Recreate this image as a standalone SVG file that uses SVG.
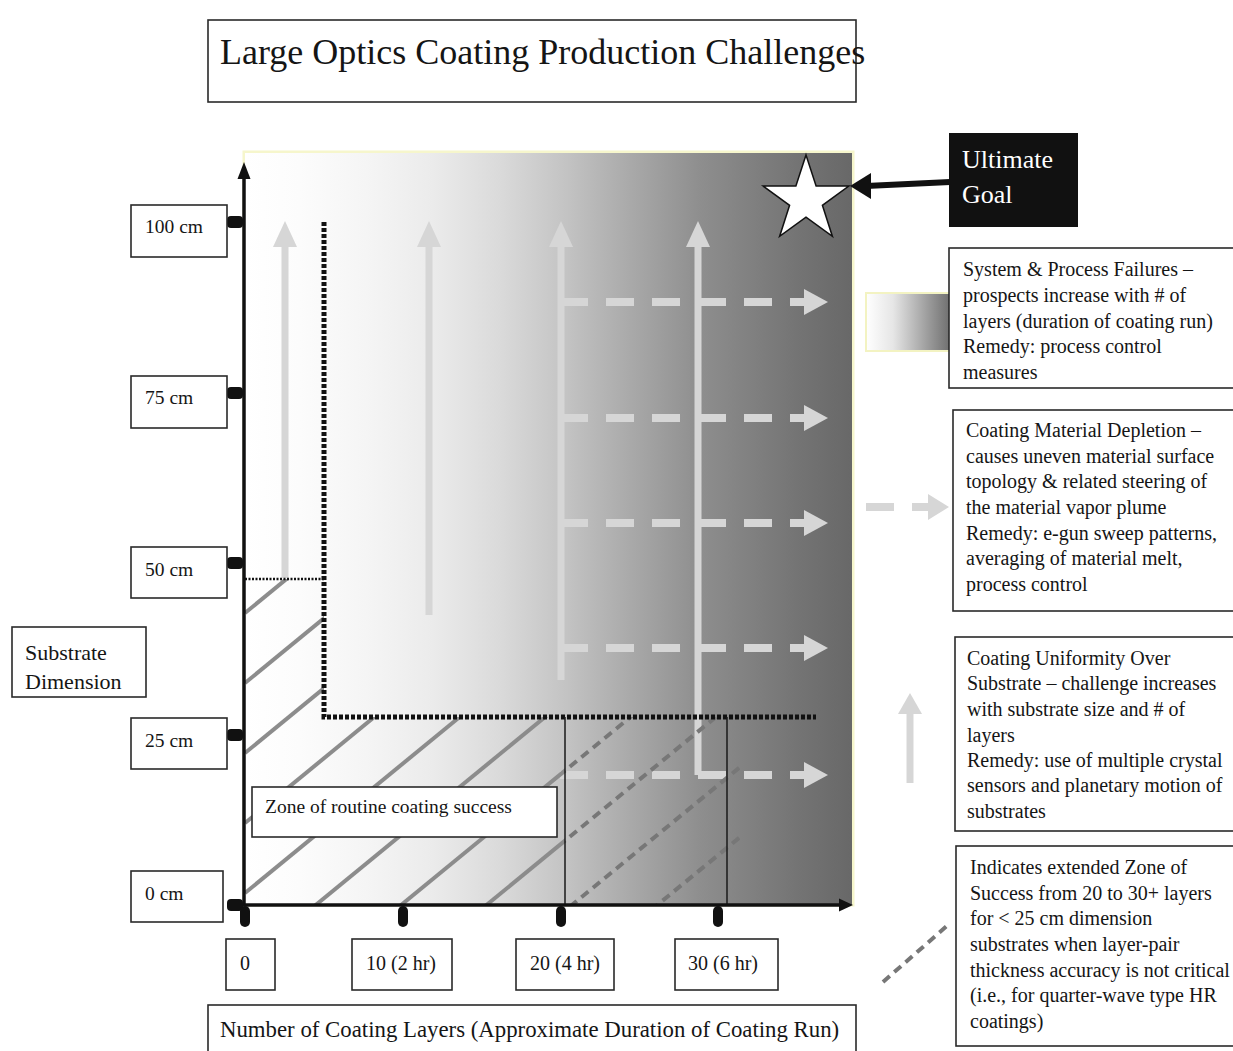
<svg xmlns="http://www.w3.org/2000/svg" width="1233" height="1051" viewBox="0 0 1233 1051">
  <style>
    text { font-family: "Liberation Serif", "Times New Roman", serif; fill: #151515; }
    .box { fill: #ffffff; stroke: #2a2a2a; stroke-width: 1.6; }
    .body { font-size: 20px; }
    .tick-label { font-size: 19.5px; }
    .light { stroke: #d6d6d6; stroke-width: 7; fill: none; }
    .light-dash { stroke: #d6d6d6; stroke-width: 8; fill: none; stroke-dasharray: 28 18; }
    .light-head { fill: #d6d6d6; }
    .hatch { stroke: #8c8c8c; stroke-width: 4; fill: none; }
    .hatch-dash { stroke: #777777; stroke-width: 4; fill: none; stroke-dasharray: 9 6; }
    .ink { fill: #111111; }
  </style>
  <defs>
    <linearGradient id="fieldGrad" gradientUnits="userSpaceOnUse" x1="245" y1="0" x2="852" y2="0">
      <stop offset="0" stop-color="#ffffff"/>
      <stop offset="0.09" stop-color="#fcfcfc"/>
      <stop offset="0.2" stop-color="#f5f5f5"/>
      <stop offset="0.31" stop-color="#ebebeb"/>
      <stop offset="0.42" stop-color="#dadada"/>
      <stop offset="0.53" stop-color="#c3c3c3"/>
      <stop offset="0.64" stop-color="#a8a8a8"/>
      <stop offset="0.75" stop-color="#8e8e8e"/>
      <stop offset="0.91" stop-color="#747474"/>
      <stop offset="1" stop-color="#686868"/>
    </linearGradient>
    <linearGradient id="swatchGrad" x1="0" y1="0" x2="1" y2="0">
      <stop offset="0" stop-color="#ffffff"/>
      <stop offset="0.3" stop-color="#e6e6e6"/>
      <stop offset="0.7" stop-color="#9a9a9a"/>
      <stop offset="1" stop-color="#636363"/>
    </linearGradient>
    <clipPath id="solidZone">
      <polygon points="245,579 324,579 324,717 565,717 565,905 245,905"/>
    </clipPath>
    <clipPath id="dashZone">
      <rect x="565" y="717" width="175" height="188"/>
    </clipPath>
  </defs>

  <rect width="1233" height="1051" fill="#ffffff"/>

  <!-- title -->
  <g id="title">
    <rect class="box" x="208" y="20" width="648" height="82"/>
    <text x="220" y="64" font-size="36">Large Optics Coating Production Challenges</text>
  </g>

  <!-- shaded field of the chart -->
  <g id="chart-field">
    <rect x="244" y="152" width="609" height="753" fill="none" stroke="#f6f6cc" stroke-width="3"/>
    <rect x="245" y="153" width="607" height="752" fill="url(#fieldGrad)"/>
  </g>

  <!-- challenge arrows, hatching and zone boundaries -->
  <g id="connectors">
    <!-- vertical size arrows -->
    <line class="light" x1="285" y1="578" x2="285" y2="240"/>
    <polygon class="light-head" points="285,221 273,247 297,247"/>
    <line class="light" x1="429" y1="615" x2="429" y2="240"/>
    <polygon class="light-head" points="429,221 417,247 441,247"/>
    <line class="light" x1="561" y1="680" x2="561" y2="240"/>
    <polygon class="light-head" points="561,221 549,247 573,247"/>
    <line class="light" x1="698" y1="775" x2="698" y2="240"/>
    <polygon class="light-head" points="698,221 686,247 710,247"/>

    <!-- horizontal layer-count arrows -->
    <line class="light-dash" x1="560" y1="302" x2="806" y2="302"/>
    <polygon class="light-head" points="804,289 828,302 804,315"/>
    <line class="light-dash" x1="560" y1="418" x2="806" y2="418"/>
    <polygon class="light-head" points="804,405 828,418 804,431"/>
    <line class="light-dash" x1="560" y1="523" x2="806" y2="523"/>
    <polygon class="light-head" points="804,510 828,523 804,536"/>
    <line class="light-dash" x1="560" y1="648" x2="806" y2="648"/>
    <polygon class="light-head" points="804,635 828,648 804,661"/>
    <line class="light-dash" x1="560" y1="775" x2="806" y2="775"/>
    <polygon class="light-head" points="804,762 828,775 804,788"/>

    <!-- hatching: routine success zone -->
    <g clip-path="url(#solidZone)">
      <line class="hatch" x1="245" y1="613" x2="900" y2="76"/>
      <line class="hatch" x1="245" y1="683" x2="900" y2="146"/>
      <line class="hatch" x1="245" y1="753" x2="900" y2="216"/>
      <line class="hatch" x1="245" y1="823" x2="900" y2="286"/>
      <line class="hatch" x1="245" y1="893" x2="900" y2="356"/>
      <line class="hatch" x1="245" y1="963" x2="900" y2="426"/>
      <line class="hatch" x1="245" y1="1033" x2="900" y2="496"/>
      <line class="hatch" x1="245" y1="1103" x2="900" y2="566"/>
    </g>
    <!-- hatching: extended zone -->
    <g clip-path="url(#dashZone)">
      <line class="hatch-dash" x1="245" y1="1033" x2="900" y2="496"/>
      <line class="hatch-dash" x1="245" y1="1103" x2="900" y2="566"/>
      <line class="hatch-dash" x1="245" y1="1173" x2="900" y2="636"/>
      <line class="hatch-dash" x1="245" y1="1243" x2="900" y2="706"/>
    </g>

    <!-- zone boundaries -->
    <line x1="245" y1="579" x2="324" y2="579" stroke="#111" stroke-width="2.5" stroke-dasharray="2 1.5"/>
    <polyline points="324,222 324,717 816,717" fill="none" stroke="#111" stroke-width="5" stroke-dasharray="4 2"/>
    <line x1="565" y1="717" x2="565" y2="905" stroke="#1a1a1a" stroke-width="1.5"/>
    <line x1="727" y1="717" x2="727" y2="905" stroke="#1a1a1a" stroke-width="1.5"/>

    <!-- pointer to the ultimate goal -->
    <line x1="866" y1="186" x2="950" y2="182" stroke="#111" stroke-width="6"/>
    <polygon class="ink" points="850,186 871,173 871,199"/>

    <!-- legend samples -->
    <line class="light-dash" x1="866" y1="507" x2="932" y2="507"/>
    <polygon class="light-head" points="928,494 949,507 928,520"/>
    <line class="light" x1="910" y1="783" x2="910" y2="710"/>
    <polygon class="light-head" points="910,693 898,714 922,714"/>
    <line class="hatch-dash" x1="883" y1="982" x2="948" y2="925"/>
  </g>

  <!-- ultimate goal star -->
  <g id="goal-star">
    <polygon points="806,155 816.1,186.1 848.8,186.1 822.4,205.3 832.4,236.4 806,217.2 779.6,236.4 789.6,205.3 763.2,186.1 795.9,186.1" fill="#ffffff" stroke="#111" stroke-width="1.5"/>
  </g>

  <!-- axes -->
  <g id="axes">
    <line x1="244" y1="905" x2="244" y2="174" stroke="#111" stroke-width="3.5"/>
    <polygon class="ink" points="244,162 237.5,179 250.5,179"/>
    <line x1="242" y1="905" x2="842" y2="905" stroke="#111" stroke-width="3.5"/>
    <polygon class="ink" points="853,905 839,898.5 839,911.5"/>
    <!-- y ticks -->
    <rect class="ink" x="227" y="216" width="16" height="12" rx="4"/>
    <rect class="ink" x="227" y="387" width="16" height="12" rx="4"/>
    <rect class="ink" x="227" y="557" width="16" height="12" rx="4"/>
    <rect class="ink" x="227" y="729" width="16" height="12" rx="4"/>
    <rect class="ink" x="227" y="899" width="16" height="12" rx="4"/>
    <!-- x ticks -->
    <rect class="ink" x="240" y="906" width="10" height="21" rx="5"/>
    <rect class="ink" x="398" y="906" width="10" height="21" rx="5"/>
    <rect class="ink" x="556" y="906" width="10" height="21" rx="5"/>
    <rect class="ink" x="713" y="906" width="10" height="21" rx="5"/>
  </g>

  <!-- routine zone label -->
  <g id="zone-label">
    <rect class="box" x="252" y="787" width="305" height="50"/>
    <text x="265" y="813" font-size="19.5">Zone of routine coating success</text>
  </g>

  <!-- substrate size labels -->
  <g id="y-labels">
    <g id="y-100"><rect class="box" x="131" y="205" width="96" height="52"/><text class="tick-label" x="145" y="233">100 cm</text></g>
    <g id="y-75"><rect class="box" x="131" y="376" width="96" height="52"/><text class="tick-label" x="145" y="404">75 cm</text></g>
    <g id="y-50"><rect class="box" x="131" y="547" width="96" height="51"/><text class="tick-label" x="145" y="576">50 cm</text></g>
    <g id="y-25"><rect class="box" x="131" y="718" width="96" height="51"/><text class="tick-label" x="145" y="747">25 cm</text></g>
    <g id="y-0"><rect class="box" x="131" y="871" width="92" height="51"/><text class="tick-label" x="145" y="900">0 cm</text></g>
  </g>

  <g id="axis-title-y">
    <rect class="box" x="12" y="627" width="134" height="70"/>
    <text x="25" y="660" font-size="22">Substrate</text>
    <text x="25" y="689" font-size="22">Dimension</text>
  </g>

  <!-- layer count labels -->
  <g id="x-labels">
    <g id="x-0"><rect class="box" x="226" y="939" width="49" height="51"/><text class="body" x="240" y="970">0</text></g>
    <g id="x-10"><rect class="box" x="352" y="939" width="100" height="51"/><text class="body" x="366" y="970">10 (2 hr)</text></g>
    <g id="x-20"><rect class="box" x="516" y="939" width="98" height="51"/><text class="body" x="530" y="970">20 (4 hr)</text></g>
    <g id="x-30"><rect class="box" x="675" y="939" width="103" height="51"/><text class="body" x="688" y="970">30 (6 hr)</text></g>
  </g>

  <g id="axis-title-x">
    <rect class="box" x="208" y="1005" width="648" height="52"/>
    <text x="220" y="1037" font-size="22.8">Number of Coating Layers (Approximate Duration of Coating Run)</text>
  </g>

  <!-- ultimate goal tag -->
  <g id="ultimate-goal">
    <rect x="949" y="133" width="129" height="94" fill="#111111"/>
    <text x="962" y="168" font-size="26" style="fill:#ffffff">Ultimate</text>
    <text x="962" y="203" font-size="26" style="fill:#ffffff">Goal</text>
  </g>

  <!-- legend: system & process failures -->
  <g id="legend-failures">
    <rect x="866" y="293" width="90" height="58" fill="url(#swatchGrad)" stroke="#f3f3c2" stroke-width="2"/>
    <rect class="box" x="949" y="248" width="300" height="140"/>
    <text class="body" x="963" y="276">System &amp; Process Failures –</text>
    <text class="body" x="963" y="302">prospects increase with # of</text>
    <text class="body" x="963" y="328">layers (duration of coating run)</text>
    <text class="body" x="963" y="353">Remedy: process control</text>
    <text class="body" x="963" y="379">measures</text>
  </g>

  <!-- legend: material depletion -->
  <g id="legend-depletion">
    <rect class="box" x="953" y="410" width="300" height="201"/>
    <text class="body" x="966" y="437">Coating Material Depletion –</text>
    <text class="body" x="966" y="463">causes uneven material surface</text>
    <text class="body" x="966" y="488">topology &amp; related steering of</text>
    <text class="body" x="966" y="514">the material vapor plume</text>
    <text class="body" x="966" y="540">Remedy: e-gun sweep patterns,</text>
    <text class="body" x="966" y="565">averaging of material melt,</text>
    <text class="body" x="966" y="591">process control</text>
  </g>

  <!-- legend: uniformity -->
  <g id="legend-uniformity">
    <rect class="box" x="955" y="637" width="300" height="194"/>
    <text class="body" x="967" y="665">Coating Uniformity Over</text>
    <text class="body" x="967" y="690">Substrate – challenge increases</text>
    <text class="body" x="967" y="716">with substrate size and # of</text>
    <text class="body" x="967" y="742">layers</text>
    <text class="body" x="967" y="767">Remedy: use of multiple crystal</text>
    <text class="body" x="967" y="792">sensors and planetary motion of</text>
    <text class="body" x="967" y="818">substrates</text>
  </g>

  <!-- legend: extended zone -->
  <g id="legend-extended">
    <rect class="box" x="956" y="846" width="300" height="200"/>
    <text class="body" x="970" y="874">Indicates extended Zone of</text>
    <text class="body" x="970" y="900">Success from 20 to 30+ layers</text>
    <text class="body" x="970" y="925">for &lt; 25 cm dimension</text>
    <text class="body" x="970" y="951">substrates when layer-pair</text>
    <text class="body" x="970" y="977">thickness accuracy is not critical</text>
    <text class="body" x="970" y="1002">(i.e., for quarter-wave type HR</text>
    <text class="body" x="970" y="1028">coatings)</text>
  </g>
</svg>
